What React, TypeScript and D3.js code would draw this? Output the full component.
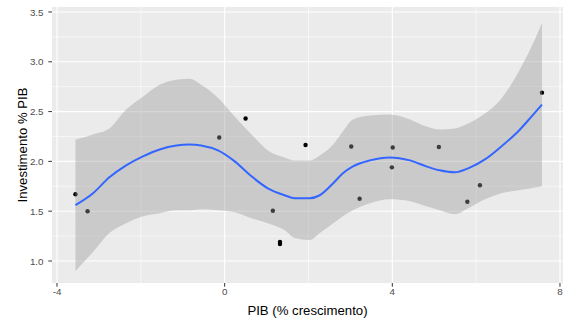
import React from "react";
import { scaleLinear, line, area, curveMonotoneX } from "d3";

// observed points: GDP growth (%) vs public investment (% of GDP)
const pibGrowth = [-3.56, -3.27, -0.13, 0.5, 1.15, 1.32, 1.32, 1.93, 3.02, 3.22, 4.01, 3.99, 5.11, 5.79, 6.09, 7.57];
const investment = [1.67, 1.5, 2.24, 2.43, 1.505, 1.17, 1.19, 2.165, 2.15, 1.625, 2.14, 1.94, 2.145, 1.595, 1.76, 2.69];

// loess smooth
const smoothX = [-3.56, -3.14, -2.75, -2.35, -1.95, -1.55, -1.15, -0.84, -0.56, -0.16, 0.24, 0.64, 1.03, 1.43, 1.67, 2.03, 2.27, 2.59, 2.82, 3.06, 3.46, 3.94, 4.42, 4.81, 5.13, 5.49, 5.81, 6.21, 6.6, 7.0, 7.32, 7.57];
const smoothFit = [1.56, 1.68, 1.84, 1.96, 2.05, 2.12, 2.16, 2.17, 2.16, 2.11, 2.0, 1.85, 1.73, 1.66, 1.63, 1.63, 1.66, 1.78, 1.88, 1.95, 2.01, 2.04, 2.01, 1.95, 1.91, 1.89, 1.93, 2.02, 2.15, 2.3, 2.45, 2.57];
const smoothUpper = [2.22, 2.27, 2.33, 2.52, 2.65, 2.77, 2.82, 2.83, 2.77, 2.64, 2.45, 2.27, 2.11, 2.04, 2.01, 2.01, 2.06, 2.17, 2.3, 2.42, 2.46, 2.47, 2.42, 2.35, 2.32, 2.33, 2.38, 2.48, 2.63, 2.89, 3.15, 3.39];
const smoothLower = [0.9, 1.09, 1.28, 1.38, 1.45, 1.48, 1.51, 1.51, 1.52, 1.51, 1.49, 1.43, 1.38, 1.31, 1.23, 1.21, 1.28, 1.38, 1.45, 1.51, 1.58, 1.62, 1.6, 1.55, 1.51, 1.47, 1.53, 1.62, 1.68, 1.71, 1.73, 1.75];

const xTicks = [-4, 0, 4, 8];
const xMinor = [-2, 2, 6];
const yTicks = [1.0, 1.5, 2.0, 2.5, 3.0, 3.5];
const yMinor = [1.25, 1.75, 2.25, 2.75, 3.25];

const W = 564;
const H = 322;
const panel = { left: 52, right: 563, top: 7, bottom: 283 };
const font = "'Liberation Sans', Arial, sans-serif";

const App = () => {
  const x = scaleLinear().domain([-4.119, 8.072]).range([panel.left, panel.right]);
  const y = scaleLinear().domain([0.779, 3.55]).range([panel.bottom, panel.top]);

  const idx = smoothX.map((_, i) => i);
  const ribbon = area<number>()
    .x((i) => x(smoothX[i]))
    .y0((i) => y(smoothLower[i]))
    .y1((i) => y(smoothUpper[i]))
    .curve(curveMonotoneX);
  const fitLine = line<number>()
    .x((i) => x(smoothX[i]))
    .y((i) => y(smoothFit[i]))
    .curve(curveMonotoneX);

  return (
    <div style={{ position: "fixed", left: 0, top: 0 }}>
      <svg width={W} height={H} style={{ display: "block", background: "#fff" }}>
        <rect
          x={panel.left}
          y={panel.top}
          width={panel.right - panel.left}
          height={panel.bottom - panel.top}
          fill="#EBEBEB"
        />
        {yMinor.map((v) => (
          <line key={"ym" + v} x1={panel.left} x2={panel.right} y1={y(v)} y2={y(v)} stroke="#fff" strokeWidth={0.55} />
        ))}
        {xMinor.map((v) => (
          <line key={"xm" + v} x1={x(v)} x2={x(v)} y1={panel.top} y2={panel.bottom} stroke="#fff" strokeWidth={0.55} />
        ))}
        {yTicks.map((v) => (
          <line key={"yg" + v} x1={panel.left} x2={panel.right} y1={y(v)} y2={y(v)} stroke="#fff" strokeWidth={1.1} />
        ))}
        {xTicks.map((v) => (
          <line key={"xg" + v} x1={x(v)} x2={x(v)} y1={panel.top} y2={panel.bottom} stroke="#fff" strokeWidth={1.1} />
        ))}

        {pibGrowth.map((v, i) => (
          <circle key={"p" + i} cx={x(v)} cy={y(investment[i])} r={2.2} fill="#000" />
        ))}

        <path d={ribbon(idx) || ""} fill="#999999" fillOpacity={0.4} />
        <path d={fitLine(idx) || ""} fill="none" stroke="#3366FF" strokeWidth={2} />

        {/* y axis */}
        {yTicks.map((v) => (
          <g key={"yt" + v}>
            <line x1={panel.left - 3.7} x2={panel.left} y1={y(v)} y2={y(v)} stroke="#333" strokeWidth={1} />
            <text
              x={panel.left - 8.5}
              y={y(v)}
              dy="0.36em"
              textAnchor="end"
              fontFamily={font}
              fontSize={9.8}
              fill="#4D4D4D"
            >
              {v.toFixed(1)}
            </text>
          </g>
        ))}
        {/* x axis */}
        {xTicks.map((v) => (
          <g key={"xt" + v}>
            <line x1={x(v)} x2={x(v)} y1={panel.bottom} y2={panel.bottom + 3.7} stroke="#333" strokeWidth={1} />
            <text x={x(v)} y={294.5} textAnchor="middle" fontFamily={font} fontSize={9.8} fill="#4D4D4D">
              {v}
            </text>
          </g>
        ))}

        <text x={(panel.left + panel.right) / 2} y={315} textAnchor="middle" fontFamily={font} fontSize={13.2} fill="#000">
          PIB (% crescimento)
        </text>
        <text
          transform={`translate(26.5,${(panel.top + panel.bottom) / 2}) rotate(-90)`}
          textAnchor="middle"
          fontFamily={font}
          fontSize={13.2}
          fill="#000"
        >
          Investimento % PIB
        </text>
      </svg>
    </div>
  );
};

export default App;
